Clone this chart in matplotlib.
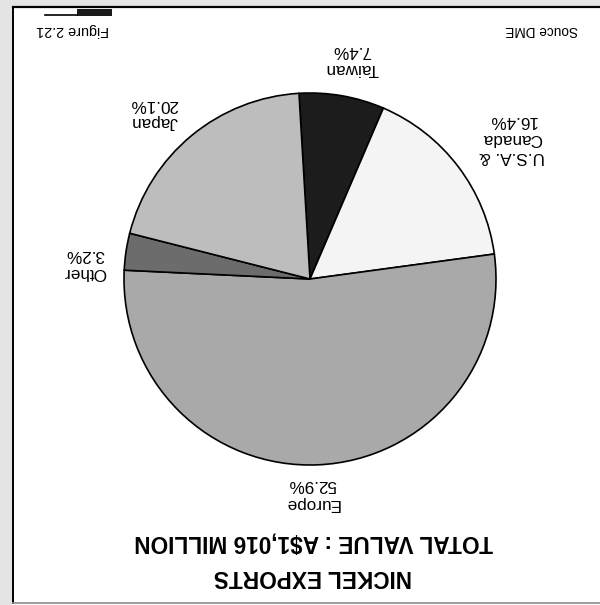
import matplotlib
matplotlib.use("Agg")
import matplotlib.pyplot as plt
from matplotlib.patches import Rectangle

# data (the scanned page is upside down, so everything is drawn rotated 180 deg)
regions = ["Taiwan", "U.S.A. &\nCanada", "Europe", "Other", "Japan"]
shares = [7.4, 16.4, 52.9, 3.2, 20.1]
share_labels = ["7.4%", "16.4%", "52.9%", "3.2%", "20.1%"]
colors = ["#1c1c1c", "#f4f4f4", "#a9a9a9", "#6c6c6c", "#bdbdbd"]

title_lines = ["NICKEL EXPORTS", "TOTAL VALUE : A$1,016 MILLION"]
source_text = "Souce DME"
figure_text = "Figure 2.21"

# label anchors in pixel coords (x, y from top of image)
label_pos = [(352, 60), (512, 138), (312, 494), (85, 263), (154, 113)]

W, H = 600, 605
fig = plt.figure(figsize=(W / 100, H / 100), dpi=100)
ax = fig.add_axes([0, 0, 1, 1])
ax.set_xlim(0, W)
ax.set_ylim(0, H)
ax.axis("off")

font = ["Liberation Sans", "DejaVu Sans"]


def up(y):
    return H - y


# scanner margins and the frame of the page
ax.add_patch(Rectangle((0, 0), 12, H, color="#e4e4e4", lw=0))
ax.add_patch(Rectangle((0, up(6)), W, 6, color="#e4e4e4", lw=0))
ax.plot([13, W], [up(7), up(7)], color="black", lw=1.6)
ax.plot([13, 13], [up(7), up(603)], color="black", lw=1.4)
ax.plot([13, W], [up(603), up(603)], color="#8c8c8c", lw=1.2)

wedges, _ = ax.pie(shares, colors=colors, startangle=93.4, counterclock=False,
                   center=(310, up(279)), radius=186,
                   wedgeprops=dict(edgecolor="black", linewidth=1.2))
ax.set_xlim(0, W)
ax.set_ylim(0, H)

for name, pct, (x, y) in zip(regions, share_labels, label_pos):
    ax.text(x, up(y), name + "\n" + pct, rotation=180, rotation_mode="anchor",
            ha="center", va="center", fontsize=12.3, linespacing=1.25,
            family=font)

ax.text(313, up(576), title_lines[0], rotation=180, rotation_mode="anchor",
        ha="center", va="center", fontsize=16.3, fontweight="bold", family=font)
ax.text(314, up(542), title_lines[1], rotation=180, rotation_mode="anchor",
        ha="center", va="center", fontsize=16.3, fontweight="bold", family=font)

ax.text(542, up(30), source_text, rotation=180, rotation_mode="anchor",
        ha="center", va="center", fontsize=9.8, family=font)
ax.text(73, up(30), figure_text, rotation=180, rotation_mode="anchor",
        ha="center", va="center", fontsize=10.4, family=font)

# figure tab marker above the figure number
ax.add_patch(Rectangle((77, up(16)), 35, 7, color="#1a1a1a", lw=0))
ax.plot([45, 77], [up(15), up(15)], color="black", lw=1.2)

fig.savefig("out.png", dpi=100)
